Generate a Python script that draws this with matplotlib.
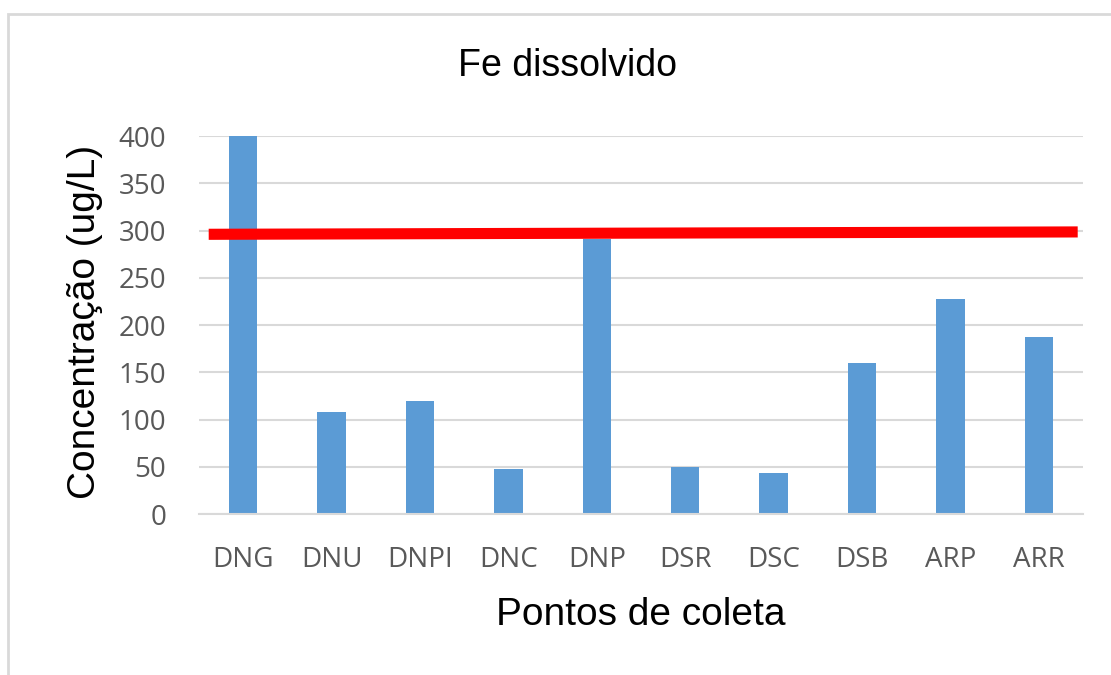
import matplotlib.pyplot as plt
from matplotlib.patches import Rectangle
import numpy as np

# sampling points and dissolved Fe concentration (ug/L)
pontos = ['DNG', 'DNU', 'DNPI', 'DNC', 'DNP', 'DSR', 'DSC', 'DSB', 'ARP', 'ARR']
fe_dissolvido = [400, 108, 120, 48, 291, 50, 43, 160, 227, 187]

# reference limit line (drawn by hand in the original, slightly tilted)
limite_x = [-0.39, 9.44]
limite_y = [296, 298.5]

y_ticks = [0, 50, 100, 150, 200, 250, 300, 350, 400]

fig = plt.figure(figsize=(11.11, 6.75), dpi=100)
ax = fig.add_axes([0.1791, 0.2385, 0.7957, 0.56])

# light frame around the chart
fig.patches.append(Rectangle((0.0075, -0.05), 1.1, 1.03, transform=fig.transFigure,
                             fill=False, edgecolor='#D9D9D9', linewidth=2))

x = np.arange(len(pontos))
ax.bar(x, fe_dissolvido, width=0.32, color='#5B9BD5', zorder=2)
ax.plot(limite_x, limite_y, color='#FF0000', linewidth=8, solid_capstyle='butt', zorder=3)

ax.set_xlim(-0.5, len(pontos) - 0.5)
ax.set_ylim(0, 400)
ax.set_yticks(y_ticks)
ax.set_xticks(x)
ax.set_xticklabels(pontos)
ax.grid(axis='y', color='#D9D9D9', linewidth=1.5, zorder=0)
ax.set_axisbelow(True)
for s in ['top', 'right', 'left']:
    ax.spines[s].set_visible(False)
ax.spines['bottom'].set_color('#D9D9D9')
ax.spines['bottom'].set_linewidth(1.5)
ax.tick_params(axis='both', length=0, labelsize=20, labelcolor='#595959')
ax.tick_params(axis='y', pad=23.5)
ax.tick_params(axis='x', pad=23)
for lbl in ax.get_xticklabels() + ax.get_yticklabels():
    lbl.set_family('Open Sans')

# titles placed in figure coordinates, like the original layout
fig.text(567 / 1111, 1 - 66 / 675, 'Fe dissolvido', fontsize=27,
         family='Liberation Sans', ha='center', va='center')
fig.text(85 / 1111, 1 - 322 / 675, 'Concentração (ug/L)', fontsize=28,
         family='Liberation Sans', ha='center', va='center', rotation=90)
fig.text(641 / 1111, 1 - 615 / 675, 'Pontos de coleta', fontsize=28,
         family='Liberation Sans', ha='center', va='center')

fig.savefig('out.png', dpi=100)
